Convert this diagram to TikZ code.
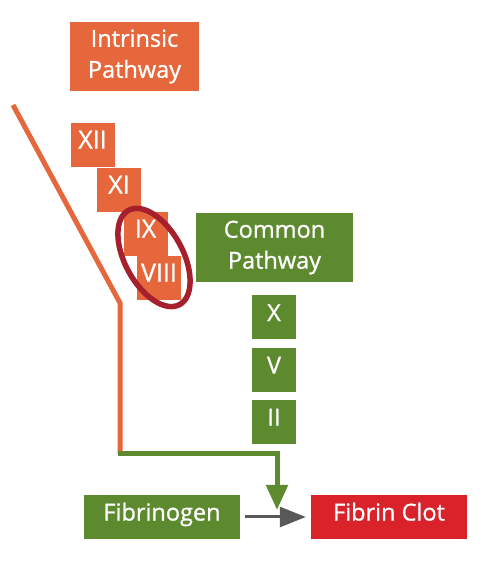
\documentclass[tikz,border=0pt]{standalone}
\usepackage{fontspec}
\setmainfont{Open Sans}[FakeBold=1]
\usetikzlibrary{arrows.meta}
\definecolor{orng}{HTML}{E5673B}
\definecolor{grn}{HTML}{5E8A2F}
\definecolor{rd}{HTML}{D92229}
\definecolor{dred}{HTML}{A51F2D}
\definecolor{gry}{HTML}{595959}
\tikzset{
  x=1pt,y=1pt,
  box/.style={rectangle,inner sep=0pt,text=white,font=\fontsize{23.5}{31}\selectfont,align=center},
  onebox/.style={box,text height=0.71em,text depth=0pt},
  obox/.style={onebox,fill=orng,minimum width=44pt,minimum height=44pt,font=\fontsize{25}{30}\selectfont},
  gbox/.style={onebox,fill=grn,minimum width=44pt,minimum height=44pt},
}
\begin{document}
\begin{tikzpicture}
\useasboundingbox (0,0) rectangle (492,568);
% orange line
\coordinate (otop) at (13,463);
\coordinate (obend) at (120,265);
\coordinate (obot) at (120,114);
\draw[orng,line width=5pt] (otop) -- (obend) -- (obot);
% boxes
\node[box,fill=orng,minimum width=129pt,minimum height=69pt] (intr) at (134.5,511.5) {Intrinsic\\Pathway};
\node[obox] (xii) at (92.5,423) {XII};
\node[obox] (xi) at (119,378) {XI};
\node[obox] (ix) at (145.5,334) {IX};
\node[obox] (viii) at (159,290) {VIII};
\draw[dred,line width=5.5pt,rotate around={-61.5:(154,310.5)}] (154,310.5) ellipse [x radius=53.6pt,y radius=29pt];
\node[box,fill=grn,minimum width=157pt,minimum height=69pt] (comm) at (274.5,320.5) {Common\\Pathway};
\node[gbox] (x) at (274,250.5) {X};
\node[gbox] (v) at (274,198) {V};
\node[gbox] (ii) at (274,146) {II};
\node[onebox,fill=grn,minimum width=156pt,minimum height=44pt] (fibg) at (162,51) {Fibrinogen};
\node[onebox,fill=rd,minimum width=156pt,minimum height=44pt] (clot) at (389,51) {Fibrin Clot};
% green connector
\coordinate (gstart) at (117.5,114);
\coordinate (gcorner) at (277,114);
\coordinate (gtip) at (277,58);
\draw[grn,line width=5pt,-{Triangle[width=21pt,length=25pt]}] (gstart) -- (gcorner) -- (gtip);
% gray arrow
\draw[gry,line width=3pt,-{Triangle[width=20pt,length=26pt]}] ([xshift=5pt]fibg.east) -- ([xshift=-5pt]clot.west);
\end{tikzpicture}
\end{document}
